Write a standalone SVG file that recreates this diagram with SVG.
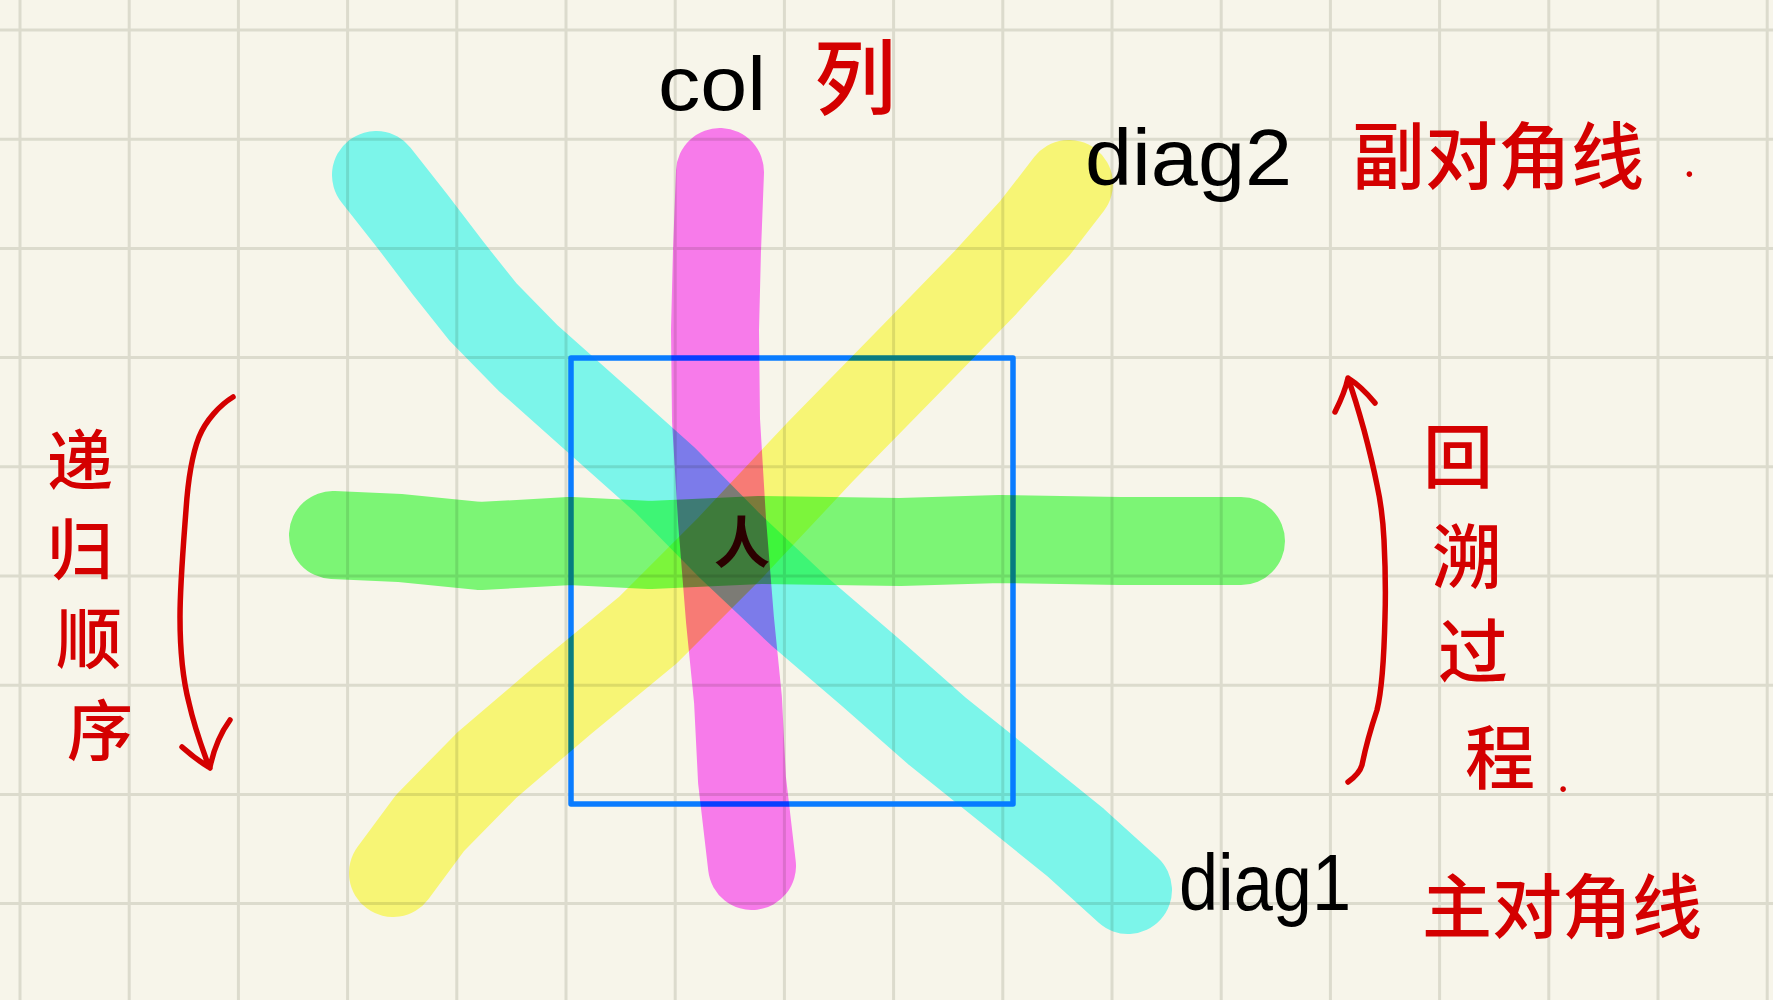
<svg xmlns="http://www.w3.org/2000/svg" width="1773" height="1000" viewBox="0 0 1773 1000">
<style>
.grid{stroke:#dcdbcd;stroke-width:3;fill:none}
.hl{fill:none;stroke-width:88;stroke-linecap:round;stroke-linejoin:round;mix-blend-mode:multiply}
.lat{font-family:"Liberation Sans","Noto Sans CJK SC",sans-serif;fill:#000}
.zh{font-family:"Noto Sans CJK SC",sans-serif;fill:#d40000;font-weight:500}
.pen{fill:none;stroke:#d40000;stroke-width:5.5;stroke-linecap:round;stroke-linejoin:round}
</style>
<rect x="0" y="0" width="1773" height="1000" fill="#f7f5ea"/>
<g id="grid">
<path class="grid" d="M20,0V1000M129.2,0V1000M238.4,0V1000M347.6,0V1000M456.8,0V1000M566,0V1000M675.2,0V1000M784.4,0V1000M893.6,0V1000M1002.8,0V1000M1112,0V1000M1221.2,0V1000M1330.4,0V1000M1439.6,0V1000M1548.8,0V1000M1658,0V1000M1767.2,0V1000M0,30H1773M0,139.2H1773M0,248.4H1773M0,357.6H1773M0,466.8H1773M0,576H1773M0,685.2H1773M0,794.4H1773M0,903.6H1773"/>
</g>
<g id="board">
<rect x="571" y="358" width="442" height="446" fill="none" stroke="#0a7cff" stroke-width="5.5" stroke-linejoin="round"/>
</g>
<g id="highlights">
<path id="col" class="hl" stroke="#ff80ff" d="M720,172 L717,250 L715,330 L716,420 L722,520 L730,620 L738,700 L742,780 L752,866"/>
<path id="diag1" class="hl" stroke="#80ffff" d="M376,175 L413,222 L448,268 L483,312 L528,358 L600,422 L665,480 L729,545 L800,612 L870,672 L937,731 L1008,788 L1075,842 L1128,890"/>
<path id="diag2" class="hl" stroke="#ffff80" d="M393,873 L430,823 L487,765 L563,700 L648,630 L730,548 L820,452 L915,355 L985,283 L1035,228 L1069,184"/>
<path id="row" class="hl" stroke="#80ff80" d="M333,535 L400,538 L480,546 L570,541 L650,545 L760,540 L900,542 L1000,539 L1120,541 L1241,541"/>
</g>
<g id="queen">
<text x="742" y="563" font-family="'Noto Sans CJK SC',sans-serif" font-size="56" font-weight="bold" fill="#2b0000" text-anchor="middle">人</text>
</g>
<g id="labels">
<text class="lat" x="658" y="110" font-size="76" textLength="108" lengthAdjust="spacingAndGlyphs">col</text>
<text class="zh" x="855" y="108" font-size="82" text-anchor="middle">列</text>
<text class="lat" x="1085" y="185" font-size="80" textLength="207" lengthAdjust="spacingAndGlyphs">diag2</text>
<text class="zh" x="1352" y="183" font-size="73">副对角线<tspan x="1684" y="177" font-size="36">.</tspan></text>
<text class="lat" x="1179" y="910" font-size="80" textLength="172" lengthAdjust="spacingAndGlyphs">diag1</text>
<text class="zh" x="1422" y="933" font-size="70">主对角线</text>
<text class="zh" font-size="66" text-anchor="middle"><tspan x="80" y="485">递</tspan><tspan x="80" y="574">归</tspan><tspan x="89" y="663">顺</tspan><tspan x="100" y="755">序</tspan></text>
<text class="zh" font-size="70" text-anchor="middle"><tspan x="1458" y="483">回</tspan><tspan x="1467" y="583">溯</tspan><tspan x="1473" y="678">过</tspan><tspan x="1500" y="784">程</tspan><tspan x="1563" y="792" font-size="36">.</tspan></text>
</g>
<g id="connectors">
<path class="pen" d="M233,397 C220,405 206,420 199,437 C192,455 188,480 186,510 C183,550 180,585 180,617 C180,650 183,680 189,703 C195,730 203,750 209,767 M182,747 C192,756 202,763 210,768 M230,720 C222,731 214,748 210,767"/>
<path class="pen" d="M1348,782 C1355,777 1360,772 1362,765 C1366,745 1372,725 1377,710 C1382,690 1384,660 1385,617 C1386,585 1385,560 1384,540 C1383,520 1381,503 1377,485 C1373,465 1368,445 1364,430 C1359,412 1355,398 1348,378 M1335,412 C1340,402 1345,392 1348,378 C1356,383 1366,392 1375,403"/>
</g>
</svg>
